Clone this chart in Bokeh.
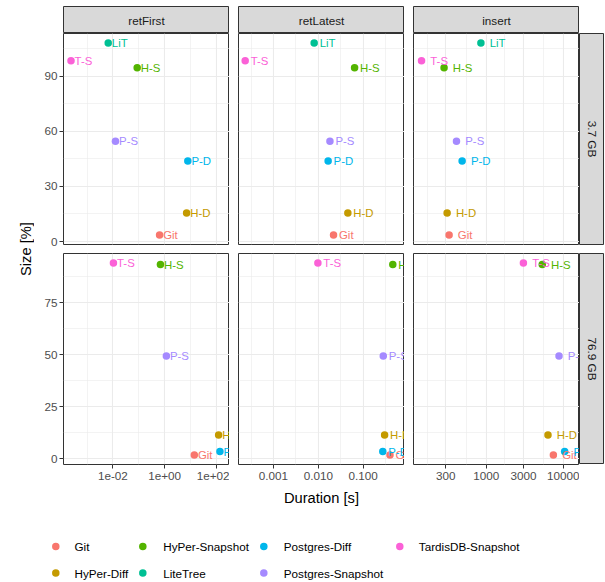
import math
from bokeh.plotting import figure
from bokeh.models import ColumnDataSource, Range1d, FixedTicker, Spacer
from bokeh.layouts import row, column
from bokeh.core.properties import value
from bokeh.embed import file_html
from bokeh.resources import INLINE

# ---------------- data ----------------
systems = ["Git", "HyPer-Diff", "HyPer-Snapshot", "LiteTree",
           "Postgres-Diff", "Postgres-Snapshot", "TardisDB-Snapshot"]
abbrevs = ["Git", "H-D", "H-S", "LiT", "P-D", "P-S", "T-S"]
colors = ["#F8766D", "#C49A00", "#53B400", "#00C094",
          "#00B6EB", "#A58AFF", "#FB61D7"]

db_sizes = ["3.7 GB", "76.9 GB"]
operations = ["retFirst", "retLatest", "insert"]

# Size [%] per system (row facets)
size_3_7GB = [3.6, 15.6, 94.7, 108.1, 43.9, 54.6, 98.5]
size_76_9GB = [1.9, 11.5, 93.4, None, 3.5, 49.4, 94.1]

# Duration [s] per system (column facets)
ret_first_3_7GB = [0.64, 7.1, 0.087, 0.0066, 7.9, 0.0126, 0.00024]
ret_first_76_9GB = [14.1, 123.0, 0.69, None, 138.0, 1.17, 0.0105]
ret_latest_3_7GB = [0.0219, 0.0457, 0.0646, 0.0081, 0.0166, 0.0182, 0.000234]
ret_latest_76_9GB = [0.398, 0.302, 0.46, None, 0.275, 0.282, 0.0098]
insert_3_7GB = [331, 312, 285, 850, 487, 412, 146]
insert_76_9GB = [7300, 6220, 5250, None, 10200, 8630, 3000]

# tick labels
ret_first_ticks = [1e-2, 1e0, 1e2]
ret_first_labels = ["1e-02", "1e+00", "1e+02"]
ret_latest_ticks = [1e-3, 1e-2, 1e-1]
ret_latest_labels = ["0.001", "0.010", "0.100"]
insert_ticks = [300, 1000, 3000, 10000]
insert_labels = ["300", "1000", "3000", "10000"]
size_ticks_3_7GB = [0, 30, 60, 90]
size_ticks_76_9GB = [0, 25, 50, 75]

# ---------------- styling / layout constants ----------------
FONT = "Liberation Sans"
GRID = "#EBEBEB"
BORDER = "#333333"
STRIP_BG = "#D9D9D9"
TOP_PAD = 6
FW, FH = 166, 211        # panel frame size
GAP = 9
YTITLE_W = 34
LEFT_AXIS = 29
STRIP_H = 27
STRIP_W = 25
BOTTOM_AXIS = 45
LEGEND_H = 72

sizes = {"3.7 GB": size_3_7GB, "76.9 GB": size_76_9GB}
durations = {
    ("3.7 GB", "retFirst"): ret_first_3_7GB,
    ("76.9 GB", "retFirst"): ret_first_76_9GB,
    ("3.7 GB", "retLatest"): ret_latest_3_7GB,
    ("76.9 GB", "retLatest"): ret_latest_76_9GB,
    ("3.7 GB", "insert"): insert_3_7GB,
    ("76.9 GB", "insert"): insert_76_9GB,
}
x_ticks = {"retFirst": (ret_first_ticks, ret_first_labels),
           "retLatest": (ret_latest_ticks, ret_latest_labels),
           "insert": (insert_ticks, insert_labels)}
x_minor = {"retFirst": [1e-3, 1e-1, 1e1],
           "retLatest": [10 ** -3.5, 10 ** -2.5, 10 ** -1.5, 10 ** -0.5],
           "insert": [math.sqrt(100 * 300), math.sqrt(300 * 1000),
                      math.sqrt(1000 * 3000), math.sqrt(3000 * 10000)]}
x_limits = {"retFirst": (10 ** -3.91, 10 ** 2.51),
            "retLatest": (10 ** -3.78, 10 ** -0.076),
            "insert": (10 ** 2.061, 10 ** 4.20)}
y_ticks = {"3.7 GB": size_ticks_3_7GB, "76.9 GB": size_ticks_76_9GB}


def y_limits(db):
    vals = [v for v in sizes[db] if v is not None]
    lo, hi = min(vals), max(vals)
    pad = 0.05 * (hi - lo)
    return lo - pad, hi + pad


def minor_between(ticks):
    step = ticks[1] - ticks[0]
    return [t + step / 2 for t in ticks]


def style_axis(ax, standoff):
    ax.axis_line_color = None
    ax.major_tick_line_color = BORDER
    ax.major_tick_out = 4
    ax.major_tick_in = 0
    ax.minor_tick_line_color = None
    ax.major_label_text_color = "#4D4D4D"
    ax.major_label_text_font = FONT
    ax.major_label_text_font_size = "11.7px"
    ax.major_label_standoff = standoff
    ax.axis_label_text_font = FONT
    ax.axis_label_text_font_size = "14.7px"
    ax.axis_label_text_font_style = "normal"
    ax.axis_label_text_color = "black"
    ax.axis_label_standoff = 7


def make_panel(r, c):
    db, op = db_sizes[r], operations[c]
    dur, siz = durations[(db, op)], sizes[db]
    keep = [i for i in range(len(systems)) if dur[i] is not None and siz[i] is not None]
    src = ColumnDataSource(dict(
        x=[dur[i] for i in keep],
        y=[siz[i] for i in keep],
        lx=[dur[i] * 10 ** 0.1 for i in keep],
        label=[abbrevs[i] for i in keep],
        color=[colors[i] for i in keep],
    ))
    left = c == 0
    bottom = r == len(db_sizes) - 1
    p = figure(frame_width=FW, frame_height=FH, x_axis_type="log",
               x_range=Range1d(*x_limits[op]), y_range=Range1d(*y_limits(db)),
               x_axis_location="below" if bottom else None,
               y_axis_location="left" if left else None,
               min_border_left=LEFT_AXIS if left else GAP, min_border_right=0,
               min_border_top=0, min_border_bottom=BOTTOM_AXIS if bottom else GAP,
               toolbar_location=None, output_backend="svg",
               outline_line_color=BORDER, outline_line_width=1,
               background_fill_color="white", border_fill_color="white")
    xt = FixedTicker(ticks=x_ticks[op][0], minor_ticks=x_minor[op])
    yt = FixedTicker(ticks=y_ticks[db], minor_ticks=minor_between(y_ticks[db]))
    for g in p.xgrid:
        g.ticker = xt
    for g in p.ygrid:
        g.ticker = yt
    p.grid.grid_line_color = GRID
    p.grid.grid_line_width = 1.1
    p.grid.minor_grid_line_color = GRID
    p.grid.minor_grid_line_width = 0.6

    if bottom:
        ax = p.xaxis[0]
        ax.ticker = xt
        ax.major_label_overrides = {t: l for t, l in zip(*x_ticks[op])}
        if op == "retLatest":
            ax.axis_label = "Duration [s]"
        style_axis(ax, 3)
    if left:
        ax = p.yaxis[0]
        ax.ticker = yt
        style_axis(ax, 2)

    p.scatter(x="x", y="y", source=src, size=7.5, fill_color="color", line_color=None)
    p.text(x="lx", y="y", text="label", source=src, text_color="color",
           text_font=value(FONT), text_font_size="11.4px",
           text_align="left", text_baseline="middle", x_offset=1)
    return p


def make_strip(label, w, h, vertical=False, bottom_pad=0):
    s = figure(frame_width=w, frame_height=h, x_range=Range1d(0, 1), y_range=Range1d(0, 1),
               x_axis_location=None, y_axis_location=None,
               min_border_left=0, min_border_right=0, min_border_top=0,
               min_border_bottom=bottom_pad,
               toolbar_location=None, output_backend="svg",
               background_fill_color=STRIP_BG, border_fill_color="white",
               outline_line_color=BORDER, outline_line_width=1)
    s.grid.visible = False
    s.text(x=[0.5], y=[0.5], text=[label], angle=-math.pi / 2 if vertical else 0,
           text_align="center", text_baseline="middle", text_color="#1A1A1A",
           text_font=value(FONT), text_font_size="11.7px")
    return s


# top strips
top_children = [Spacer(width=YTITLE_W + LEFT_AXIS, height=STRIP_H)]
for c, op in enumerate(operations):
    if c > 0:
        top_children.append(Spacer(width=GAP, height=STRIP_H))
    top_children.append(make_strip(op, FW, STRIP_H))
top = row(*top_children)

# panel rows (row gap is the bottom border of the upper row's figures)
rows = []
for r, db in enumerate(db_sizes):
    panels = [make_panel(r, c) for c in range(len(operations))]
    last = r == len(db_sizes) - 1
    panels.append(make_strip(db, STRIP_W, FH, vertical=True,
                             bottom_pad=0 if last else GAP))
    rows.append(row(*panels))
grid = column(*rows)

# y-axis title
yt_fig = figure(frame_width=YTITLE_W, frame_height=2 * FH + GAP,
                x_range=Range1d(0, YTITLE_W), y_range=Range1d(0, 1),
                x_axis_location=None, y_axis_location=None,
                min_border_left=0, min_border_right=0, min_border_top=0, min_border_bottom=0,
                toolbar_location=None, output_backend="svg",
                outline_line_color=None, background_fill_color="white", border_fill_color="white")
yt_fig.grid.visible = False
yt_fig.text(x=[25], y=[0.5], text=["Size [%]"], angle=math.pi / 2,
            text_align="center", text_baseline="middle", text_color="black",
            text_font=value(FONT), text_font_size="14.7px")

mid = row(yt_fig, grid)

# legend (ggplot style, bottom, 2 rows filled by column)
TOTAL_W = YTITLE_W + LEFT_AXIS + 3 * FW + 2 * GAP + STRIP_W
key_x = [55.3, 142.3, 263.3, 399.3]
label_x = [74.0, 162.7, 283.3, 418.3]
row_y = [35, 8.5]
leg = figure(frame_width=TOTAL_W, frame_height=LEGEND_H,
             x_range=Range1d(0, TOTAL_W), y_range=Range1d(0, LEGEND_H),
             x_axis_location=None, y_axis_location=None,
             min_border_left=0, min_border_right=0, min_border_top=0, min_border_bottom=0,
             toolbar_location=None, output_backend="svg",
             outline_line_color=None, background_fill_color="white", border_fill_color="white")
leg.grid.visible = False
lsrc = ColumnDataSource(dict(
    kx=[key_x[i // 2] for i in range(len(systems))],
    tx=[label_x[i // 2] for i in range(len(systems))],
    y=[row_y[i % 2] for i in range(len(systems))],
    name=systems,
    color=colors,
))
leg.scatter(x="kx", y="y", source=lsrc, size=7.5, fill_color="color", line_color=None)
leg.text(x="tx", y="y", text="name", source=lsrc, text_color="black",
         text_font=value(FONT), text_font_size="11.7px",
         text_align="left", text_baseline="middle")

page = column(Spacer(width=10, height=TOP_PAD), top, mid, leg)

open("out.html", "w").write(file_html(page, INLINE))
